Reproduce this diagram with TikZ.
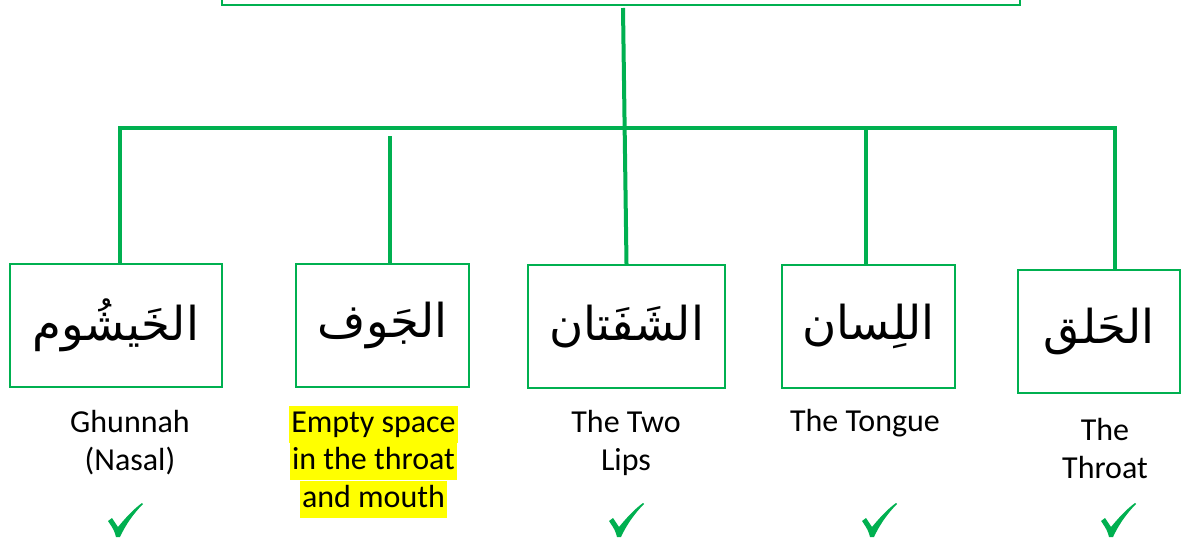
\documentclass[tikz,border=0pt]{standalone}
\usepackage{fontspec}
\setmainfont{Carlito}
\newfontfamily\arabicfont[Script=Arabic]{DejaVu Sans}
\TeXXeTstate=1
\definecolor{ogreen}{HTML}{00B050}
\definecolor{hyellow}{HTML}{FFFF00}
\tikzset{
  conn/.style={draw=ogreen, line width=3pt},
  arbox/.style={draw=ogreen, line width=1.5pt, minimum height=92.25pt, inner sep=0pt, font=\arabicfont\fontsize{35}{40}\selectfont},
  lab/.style={align=center, inner sep=0pt, font=\fontsize{24}{28.5}\selectfont},
  hl/.style={fill=hyellow, inner xsep=1.5pt, inner ysep=0pt, text height=20pt, text depth=7.75pt, font=\fontsize{24}{28.5}\selectfont},
  tickmark/.pic={\fill[ogreen] (-17,1) .. controls (-15,-1) .. (-13,-2) -- (-7,7) .. controls (2,-4) and (10,-12) .. (17,-17) -- (18,-16) .. controls (8,-6) and (0,6) .. (-5,17) -- (-9,17) .. controls (-11,10) .. (-17,1) -- cycle;}
}
\begin{document}
\begin{tikzpicture}[x=0.75pt,y=-0.75pt]
\useasboundingbox (0,0) rectangle (1181,539);
% top box (cut off)
\node[draw=ogreen, line width=1.5pt, minimum width=598.5pt, minimum height=30pt, inner sep=0pt] (top) at (621,-15) {};
% boxes
\node[arbox, minimum width=159pt] (b1) at (116,325.5) {\beginR الخَيشُوم\endR};
\node[arbox, minimum width=129.75pt] (b2) at (382.5,325.5) {\beginR الجَوف\endR};
\node[arbox, minimum width=147.75pt] (b3) at (626.5,326.5) {\beginR الشَفَتان\endR};
\node[arbox, minimum width=129.75pt] (b4) at (868.5,326.5) {\beginR اللِسان\endR};
\node[arbox, minimum width=121.5pt] (b5) at (1099,331.5) {\beginR الحَلق\endR};
% connectors
\coordinate (t0) at (623,8);
\coordinate (bL) at (120,128);
\coordinate (bR) at (1115,128);
\coordinate (d2) at (390,136);
\coordinate (d4) at (866,128);
\draw[conn] (t0) -- (b3.north);
\draw[conn] ([xshift=-1.5pt]bL) -- ([xshift=1.5pt]bR);
\draw[conn] (bL) -- (bL |- b1.north);
\draw[conn] (d2) -- (d2 |- b2.north);
\draw[conn] (d4) -- (d4 |- b4.north);
\draw[conn] (bR) -- (bR |- b5.north);
% labels
\node[lab] (l1) at (130,443) {Ghunnah\\(Nasal)};
\node[hl] (l2a) at (373.5,424) {Empty space};
\node[hl, anchor=north] (l2b) at (l2a.south) {in the throat};
\node[hl, anchor=north] (l2c) at (l2b.south) {and mouth};
\node[lab] (l3) at (626,443) {The Two\\Lips};
\node[lab] (l4) at (865,423) {The Tongue};
\node[lab] (l5) at (1105,449) {The\\Throat};
% ticks
\pic at (125,520) {tickmark};
\pic at (626,520) {tickmark};
\pic at (879,520) {tickmark};
\pic at (1118,520) {tickmark};
\end{tikzpicture}
\end{document}
